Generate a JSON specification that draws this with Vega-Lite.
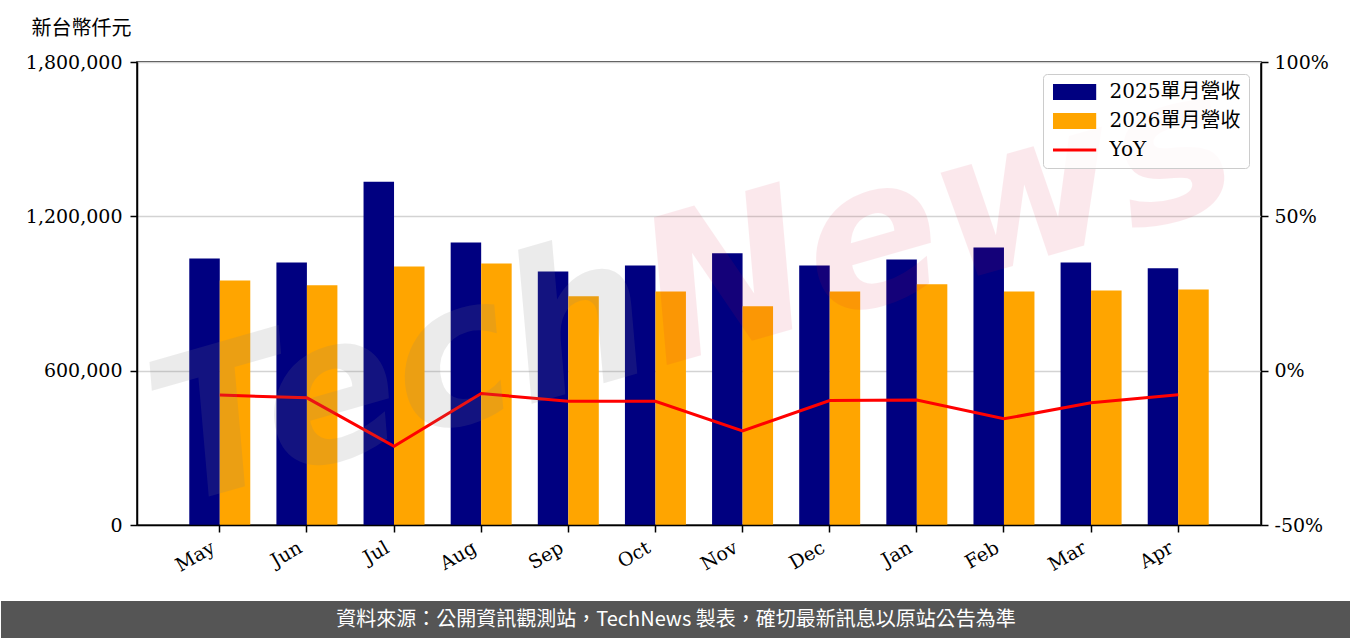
{
  "$schema": "https://vega.github.io/schema/vega-lite/v6.json",
  "background": "white",
  "padding": {"left": 0, "right": 0, "top": 17, "bottom": 0},
  "spacing": 0,
  "bounds": "full",
  "resolve": {"scale": {"color": "independent", "x": "independent"}, "legend": {"color": "independent"}},
  "config": {
    "font": "DejaVu Serif, Noto Sans CJK TC",
    "view": {"stroke": null},
    "axis": {"labelFont": "DejaVu Serif, Noto Sans CJK TC", "labelFontSize": 19, "labelColor": "black", "tickColor": "black", "tickSize": 7, "tickWidth": 1.5, "domainColor": "black", "domainWidth": 1.5},
    "legend": {"orient": "top-right", "offset": 12, "padding": 8, "strokeColor": "#cccccc", "fillColor": "rgba(255,255,255,0.8)", "cornerRadius": 4, "labelFont": "DejaVu Serif, Noto Sans CJK TC", "labelFontSize": 20, "labelColor": "black", "symbolSize": 256, "symbolOffset": 13.6, "labelOffset": 25, "rowPadding": 9, "symbolStrokeWidth": 0}
  },
  "datasets": {
    "bars": [
      {"m": "May", "s": "2025單月營收", "v": 1036000}, {"m": "May", "s": "2026單月營收", "v": 951000},
      {"m": "Jun", "s": "2025單月營收", "v": 1021000}, {"m": "Jun", "s": "2026單月營收", "v": 932000},
      {"m": "Jul", "s": "2025單月營收", "v": 1334000}, {"m": "Jul", "s": "2026單月營收", "v": 1005000},
      {"m": "Aug", "s": "2025單月營收", "v": 1098000}, {"m": "Aug", "s": "2026單月營收", "v": 1017000},
      {"m": "Sep", "s": "2025單月營收", "v": 986000}, {"m": "Sep", "s": "2026單月營收", "v": 889000},
      {"m": "Oct", "s": "2025單月營收", "v": 1009000}, {"m": "Oct", "s": "2026單月營收", "v": 908000},
      {"m": "Nov", "s": "2025單月營收", "v": 1056000}, {"m": "Nov", "s": "2026單月營收", "v": 850000},
      {"m": "Dec", "s": "2025單月營收", "v": 1009000}, {"m": "Dec", "s": "2026單月營收", "v": 908000},
      {"m": "Jan", "s": "2025單月營收", "v": 1032000}, {"m": "Jan", "s": "2026單月營收", "v": 936000},
      {"m": "Feb", "s": "2025單月營收", "v": 1079000}, {"m": "Feb", "s": "2026單月營收", "v": 908000},
      {"m": "Mar", "s": "2025單月營收", "v": 1021000}, {"m": "Mar", "s": "2026單月營收", "v": 912000},
      {"m": "Apr", "s": "2025單月營收", "v": 998000}, {"m": "Apr", "s": "2026單月營收", "v": 916000}
    ],
    "yoy": [
      {"m": "May", "s": "YoY", "y": -7.9}, {"m": "Jun", "s": "YoY", "y": -8.8},
      {"m": "Jul", "s": "YoY", "y": -24.5}, {"m": "Aug", "s": "YoY", "y": -7.4},
      {"m": "Sep", "s": "YoY", "y": -9.9}, {"m": "Oct", "s": "YoY", "y": -9.9},
      {"m": "Nov", "s": "YoY", "y": -19.5}, {"m": "Dec", "s": "YoY", "y": -9.7},
      {"m": "Jan", "s": "YoY", "y": -9.5}, {"m": "Feb", "s": "YoY", "y": -15.6},
      {"m": "Mar", "s": "YoY", "y": -10.4}, {"m": "Apr", "s": "YoY", "y": -7.8}
    ],
    "footer": [{"t": "資料來源：公開資訊觀測站，TechNews 製表，確切最新訊息以原站公告為準"}],
    "wm1": [{"w": "Tech"}],
    "wm2": [{"w": "News"}]
  },
  "vconcat": [
    {
      "width": 1124,
      "height": 463,
      "view": {"stroke": "black", "strokeWidth": 1.5},
      "layer": [
        {
          "data": {"name": "bars"},
          "mark": {"type": "bar"},
          "encoding": {
            "x": {"field": "m", "type": "nominal", "sort": ["May","Jun","Jul","Aug","Sep","Oct","Nov","Dec","Jan","Feb","Mar","Apr"],
                  "scale": {"paddingInner": 0.3, "paddingOuter": 0.6},
                  "axis": {"title": null, "labelAngle": -30, "labelAlign": "right", "labelBaseline": "top", "labelPadding": 6, "labelOffset": -11, "minExtent": 75, "zindex": 1, "grid": false}},
            "xOffset": {"field": "s", "type": "nominal", "sort": ["2025單月營收", "2026單月營收"]},
            "y": {"field": "v", "type": "quantitative", "scale": {"domain": [0, 1800000], "nice": false},
                  "axis": {"orient": "left", "values": [0, 600000, 1200000, 1800000], "format": ",d", "title": "新台幣仟元", "titleAngle": 0, "titleX": -106, "titleY": -34, "titleAlign": "left", "titleBaseline": "middle", "titleFont": "Noto Sans CJK TC", "titleFontSize": 20, "titleFontWeight": "normal", "titleColor": "black", "grid": true, "gridColor": "#d3d3d3", "gridWidth": 1.5, "minExtent": 136, "labelPadding": 8}},
            "color": {"field": "s", "type": "nominal",
                      "scale": {"domain": ["2025單月營收", "2026單月營收", "YoY"], "range": ["#000080", "#ffa500", "#ff0000"]},
                      "legend": {"title": null, "encode": {"symbols": {"update": {"shape": {"signal": "datum.value === 'YoY' ? 'M-2.7,-0.19H2.7V0.19H-2.7Z' : 'M-2.7,-1H2.7V1H-2.7Z'"}, "size": {"value": 256}, "fill": {"scale": "color", "field": "value"}, "stroke": {"value": "transparent"}, "opacity": {"value": 1}}}}}}
          }
        },
        {
          "data": {"name": "yoy"},
          "mark": {"type": "line", "strokeWidth": 3},
          "encoding": {
            "x": {"field": "m", "type": "nominal", "sort": ["May","Jun","Jul","Aug","Sep","Oct","Nov","Dec","Jan","Feb","Mar","Apr"]},
            "y": {"field": "y", "type": "quantitative", "scale": {"domain": [-50, 100], "nice": false},
                  "axis": {"orient": "right", "values": [-50, 0, 50, 100], "labelExpr": "datum.value + '%'", "title": null, "grid": false, "minExtent": 90, "labelPadding": 6, "zindex": 1}},
            "color": {"field": "s", "type": "nominal",
                      "legend": {"title": null, "encode": {"symbols": {"update": {"shape": {"signal": "datum.value === 'YoY' ? 'M-2.7,-0.19H2.7V0.19H-2.7Z' : 'M-2.7,-1H2.7V1H-2.7Z'"}, "size": {"value": 256}, "fill": {"scale": "color", "field": "value"}, "stroke": {"value": "transparent"}, "opacity": {"value": 1}}}}}}
          }
        },
        {
          "data": {"name": "wm1"},
          "mark": {"type": "text", "align": "right", "baseline": "alphabetic", "angle": -16, "fontSize": 200, "font": "DejaVu Sans", "fontWeight": "bold", "fontStyle": "italic", "color": "#808080", "opacity": 0.15, "dx": -55, "dy": 60},
          "encoding": {"text": {"field": "w"}}
        },
        {
          "data": {"name": "wm2"},
          "mark": {"type": "text", "align": "left", "baseline": "alphabetic", "angle": -16, "fontSize": 200, "font": "DejaVu Sans", "fontWeight": "bold", "fontStyle": "italic", "color": "#dc143c", "opacity": 0.09, "dx": -55, "dy": 60},
          "encoding": {"text": {"field": "w"}}
        }
      ],
      "resolve": {"scale": {"y": "independent"}}
    },
    {
      "width": 1124,
      "height": 38,
      "view": {"stroke": null},
      "data": {"name": "footer"},
      "encoding": {
        "x": {"datum": 0, "type": "quantitative", "scale": {"domain": [0.100741, 0.933333], "nice": false, "zero": false}, "axis": null}
      },
      "layer": [
        {"mark": {"type": "rect", "color": "#555555"}, "encoding": {"x2": {"datum": 1}}},
        {"mark": {"type": "text", "color": "white", "font": "Noto Sans CJK TC", "fontSize": 20, "align": "center", "baseline": "middle"},
         "encoding": {"x": {"datum": 0.5, "type": "quantitative"}, "text": {"field": "t"}}}
      ]
    }
  ]
}
